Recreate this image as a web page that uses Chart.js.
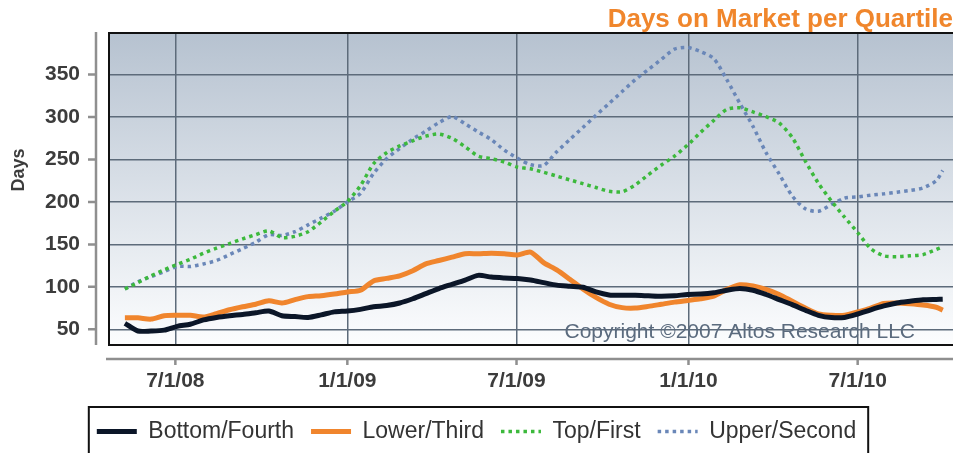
<!DOCTYPE html>
<html>
<head>
<meta charset="utf-8">
<script src="https://cdn.jsdelivr.net/npm/chart.js@4.4.1/dist/chart.umd.min.js"></script>
<style>
html,body{margin:0;padding:0;background:#ffffff;}
#wrap{width:953px;height:453px;position:relative;}
</style>
</head>
<body>
<div id="wrap"><canvas id="c" width="953" height="453"></canvas></div>
<script>
// ---- data ----
const dates = [
  '2008-05-08','2008-05-22','2008-06-05','2008-06-19','2008-07-03','2008-07-17','2008-07-31','2008-08-14',
  '2008-08-28','2008-09-11','2008-09-25','2008-10-09','2008-10-23','2008-11-06','2008-11-20','2008-12-04',
  '2008-12-18','2009-01-01','2009-01-15','2009-01-29','2009-02-12','2009-02-26','2009-03-12','2009-03-26',
  '2009-04-09','2009-04-23','2009-05-07','2009-05-21','2009-06-04','2009-06-18','2009-07-02','2009-07-16',
  '2009-07-30','2009-08-13','2009-08-27','2009-09-10','2009-09-24','2009-10-08','2009-10-22','2009-11-05',
  '2009-11-19','2009-12-03','2009-12-17','2009-12-31','2010-01-14','2010-01-28','2010-02-11','2010-02-25',
  '2010-03-11','2010-03-25','2010-04-08','2010-04-22','2010-05-06','2010-05-20','2010-06-03','2010-06-17',
  '2010-07-01','2010-07-15','2010-07-29','2010-08-12','2010-08-26','2010-09-09','2010-09-23','2010-09-30'
];
const bottomFourth = [
  57, 48, 48, 49, 53.5, 56, 61, 64, 66, 67.5, 69.5, 71.5, 66, 65, 64, 67,
  70.5, 71.5, 73.5, 76.5, 78, 81, 86, 92, 98, 103, 108, 113.5, 111.5, 110.5, 109.8, 108,
  105, 102, 100.7, 99.5, 94, 90.5, 90, 90, 89.5, 89, 89.5, 91, 91.5, 93, 96, 98,
  96, 91, 85, 79, 72.5, 66.5, 63.8, 64, 68, 73, 77.5, 81, 83, 84.7, 85.2, 85.4
];
const lowerThird = [
  63.5, 63.5, 62, 66, 66.5, 66.5, 64.5, 68.5, 73, 76.5, 79.5, 83.5, 81, 85, 88.5, 89.5,
  91.5, 94, 96, 107, 110, 113, 119, 127, 131, 135, 139, 139, 139.5, 139, 137.5, 141,
  128.5, 120, 109, 97.5, 87.5, 79.5, 75.5, 75, 77, 79.5, 82, 84, 86, 89, 97, 102.5,
  101, 97, 91, 83, 75, 68, 66.5, 66.5, 70.5, 75, 80.5, 81, 80, 78.5, 76, 72.5
];
const topFirst = [
  97.5, 105, 113, 120, 126.5, 132.5, 139.5, 145.5, 151, 156.5, 161.5, 166, 158, 159.5, 165, 176.5,
  189, 200.5, 219, 245, 258, 266, 272, 277.5, 280, 275, 265, 254, 251, 247, 241, 239,
  235, 230.5, 226, 221.5, 217, 212.5, 212, 220, 232, 243.5, 254, 267, 282, 296, 309, 311,
  306, 300.5, 293, 276, 248, 222, 201, 182, 164, 145, 136.5, 135.5, 136.5, 138, 144, 147
];
const upperSecond = [
  97.5, 106, 112, 118, 124, 124, 127, 131, 138, 145, 152.5, 161.5, 160.5, 165, 173, 181,
  189, 200, 210, 233.5, 251, 263, 274, 283.5, 293.5, 300.5, 292, 282.5, 273.5, 261, 251.5, 244,
  243, 259, 273.5, 287.7, 302, 316, 330, 344, 356, 368, 380, 382, 377, 369, 344, 316,
  289, 258, 233, 207, 192, 189, 197, 204.5, 206, 208, 209.5, 211.5, 213.5, 216.5, 225, 237
];
const seriesNames = ['Bottom/Fourth', 'Lower/Third', 'Top/First', 'Upper/Second'];
const tickDates = ['2008-07-01', '2009-01-01', '2009-07-01', '2010-01-01', '2010-07-01'];
const tickLabels = ['7/1/08', '1/1/09', '7/1/09', '1/1/10', '7/1/10'];
const yTicks = [50, 100, 150, 200, 250, 300, 350];
const xRange = ['2008-04-21', '2010-10-11'];
const yRange = [31.5, 399];

// ---- helpers ----
const EPOCH = Date.UTC(2008, 6, 1);
function toDay(s) {
  const p = s.split('-').map(Number);
  return (Date.UTC(p[0], p[1] - 1, p[2]) - EPOCH) / 86400000;
}
function pts(vals) { return vals.map((v, i) => ({x: toDay(dates[i]), y: v})); }

const FONT = "'Liberation Sans', Arial, Helvetica, sans-serif";
Chart.defaults.font.family = FONT;

const decor = {
  id: 'decor',
  beforeDraw(chart) {
    const {ctx, chartArea: a} = chart;
    const g = ctx.createLinearGradient(0, a.top, 0, a.bottom);
    g.addColorStop(0, '#b6c2d0');
    g.addColorStop(0.55, '#dde3ea');
    g.addColorStop(1, '#fcfdfe');
    ctx.save();
    ctx.fillStyle = g;
    ctx.fillRect(a.left, a.top, a.right - a.left, a.bottom - a.top);
    ctx.restore();
  },
  afterDatasetsDraw(chart) {
    const {ctx, chartArea: a} = chart;
    ctx.save();
    ctx.font = '21px ' + FONT;
    ctx.fillStyle = '#5b6b7e';
    ctx.textAlign = 'right';
    ctx.textBaseline = 'alphabetic';
    ctx.fillText('Copyright \u00A92007 Altos Research LLC', a.right - 38, a.bottom - 7);
    ctx.restore();
  },
  afterDraw(chart) {
    const {ctx, chartArea: a, scales} = chart;
    ctx.save();
    // plot frame (open at the right edge, as in the reference)
    ctx.strokeStyle = '#111111';
    ctx.lineWidth = 2;
    ctx.beginPath();
    ctx.moveTo(a.right + 3, a.top);
    ctx.lineTo(a.left, a.top);
    ctx.lineTo(a.left, a.bottom);
    ctx.lineTo(a.right + 3, a.bottom);
    ctx.stroke();
    // detached grey axis lines with tick marks at the library's tick positions
    ctx.strokeStyle = '#8f8f8f';
    ctx.lineWidth = 2.5;
    const ax = a.left - 13, ay = a.bottom + 14;
    ctx.beginPath();
    ctx.moveTo(ax, a.top - 1); ctx.lineTo(ax, a.bottom);
    ctx.moveTo(a.left - 3, ay); ctx.lineTo(chart.width, ay);
    scales.y.ticks.forEach(t => {
      const py = scales.y.getPixelForValue(t.value);
      ctx.moveTo(a.left - 21, py); ctx.lineTo(ax, py);
    });
    scales.x.ticks.forEach(t => {
      const px = scales.x.getPixelForValue(t.value);
      ctx.moveTo(px, ay); ctx.lineTo(px, ay + 6);
    });
    ctx.stroke();
    // y axis title
    ctx.fillStyle = '#3c3c3c';
    ctx.font = 'bold 18px ' + FONT;
    ctx.textAlign = 'center';
    ctx.textBaseline = 'middle';
    ctx.translate(19.5, 170);
    ctx.rotate(-Math.PI / 2);
    ctx.fillText('Days', 0, 0);
    ctx.restore();
    // legend frame
    const hb = chart.legend.legendHitBoxes;
    if (hb && hb.length) {
      const l = hb[0].left - 8;
      const last = hb[hb.length - 1];
      const r = last.left + last.width + 12;
      const t = hb[0].top - 13;
      ctx.save();
      ctx.strokeStyle = '#111111';
      ctx.lineWidth = 2;
      ctx.strokeRect(l, t, r - l, 80);
      ctx.restore();
    }
  }
};

const colors = ['#0b1628', '#f0852d', '#3cb93c', '#6a87b8'];
const widths = [5, 5, 3.5, 3.5];
const dashes = [[], [], [3.5, 4], [3.5, 4]];
const values = [bottomFourth, lowerThird, topFirst, upperSecond];

new Chart(document.getElementById('c'), {
  type: 'line',
  data: {
    datasets: values.map((v, i) => ({
      label: seriesNames[i],
      data: pts(v),
      borderColor: colors[i],
      backgroundColor: colors[i],
      borderWidth: widths[i],
      borderDash: dashes[i],
      borderCapStyle: 'butt',
      borderJoinStyle: 'round',
      pointRadius: 0,
      tension: 0.25,
      fill: false
    }))
  },
  plugins: [decor],
  options: {
    responsive: false,
    animation: false,
    layout: {padding: 0},
    plugins: {
      tooltip: {enabled: false},
      title: {
        display: true,
        text: 'Days on Market per Quartile',
        align: 'end',
        color: '#f0862c',
        font: {size: 26, weight: 'bold', lineHeight: 1},
        padding: {top: 7, bottom: 0}
      },
      legend: {
        position: 'bottom',
        labels: {
          usePointStyle: true,
          pointStyleWidth: 40,
          padding: 17,
          color: '#333333',
          font: {size: 23},
          generateLabels: chart => chart.data.datasets.map((ds, i) => ({
            text: ds.label,
            fillStyle: ds.borderColor,
            strokeStyle: ds.borderColor,
            lineWidth: ds.borderWidth,
            lineDash: ds.borderDash,
            lineCap: 'butt',
            pointStyle: 'line',
            fontColor: '#333333',
            hidden: false,
            datasetIndex: i
          }))
        }
      }
    },
    scales: {
      x: {
        type: 'linear',
        min: toDay(xRange[0]),
        max: toDay(xRange[1]),
        afterBuildTicks: s => { s.ticks = tickDates.map(d => ({value: toDay(d)})); },
        afterFit: s => { s.height = 58; s.paddingLeft = 0; s.paddingRight = 0; },
        border: {display: false},
        grid: {color: '#5d6b7a', lineWidth: 1.5, drawTicks: false},
        ticks: {
          autoSkip: false, maxRotation: 0, padding: 23.4,
          color: '#3c3c3c', font: {size: 21, weight: 'bold'},
          callback: (v, i) => tickLabels[i]
        }
      },
      y: {
        min: yRange[0],
        max: yRange[1],
        afterBuildTicks: s => { s.ticks = yTicks.map(v => ({value: v})); },
        afterFit: s => { s.width = 109; s.paddingTop = 0; s.paddingBottom = 0; },
        border: {display: false},
        grid: {color: '#5d6b7a', lineWidth: 1.5, drawTicks: false},
        ticks: {
          padding: 29, color: '#3c3c3c', font: {size: 21, weight: 'bold'},
          callback: v => String(v)
        }
      }
    }
  }
});
</script>
</body>
</html>
